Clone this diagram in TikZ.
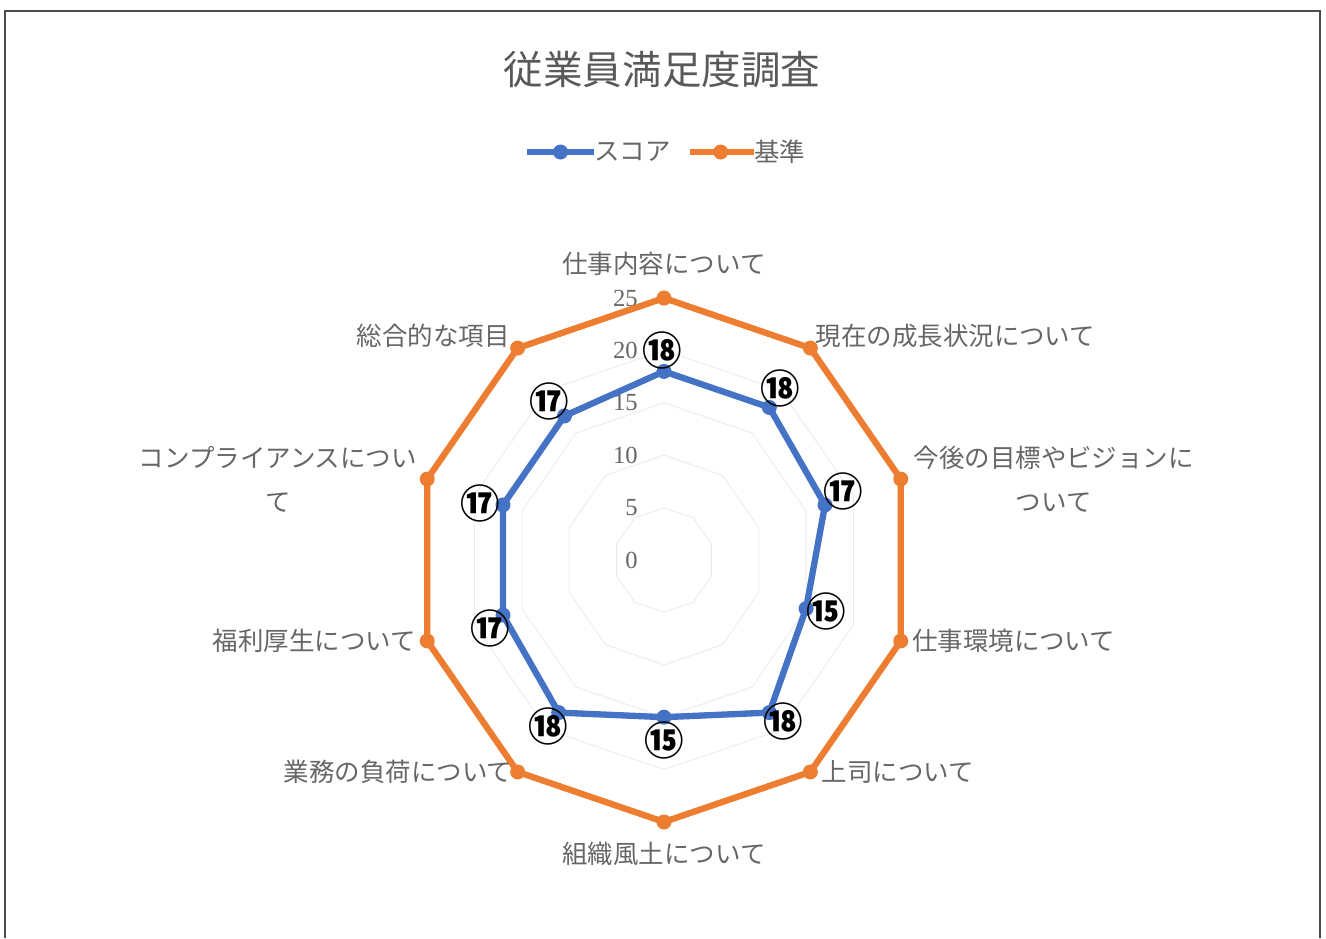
\documentclass[tikz,border=0pt]{standalone}
\usepackage{fontspec}
\setmainfont{Liberation Serif}
\newfontfamily\jpfont{Noto Sans CJK JP}
\usetikzlibrary{positioning}
\definecolor{scoreblue}{HTML}{4472C4}
\definecolor{baseorange}{HTML}{ED7D31}
\tikzset{
  axislabel/.style={text=black!60, inner sep=0pt, align=center, font=\jpfont\fontsize{14.5}{25}\selectfont},
  ticklabel/.style={text=black!60, inner sep=0pt, font=\fontsize{14}{16}\selectfont},
  numlabel/.style={text=black, inner sep=0pt, font=\jpfont\bfseries\fontsize{22.5}{24}\selectfont},
  dot/.style={circle, inner sep=0pt, minimum size=0.3cm},
  seriesline/.style={line width=3.6pt, line join=round},
  gridline/.style={draw=black!8, line width=0.5pt}
}

\begin{document}
\begin{tikzpicture}[x=0.02cm, y=-0.02cm]
  \useasboundingbox (0,0) rectangle (1326,938);
  \draw[black!70, line width=1.2pt] (5,938) -- (5,11) -- (1320,11) -- (1320,938);

  \node[text=black!65, inner sep=0pt, font=\jpfont\fontsize{22.5}{26}\selectfont] (title) at (662,70) {従業員満足度調査};

  % legend
  \node[axislabel, anchor=west] (leg1) at (594,152) {スコア};
  \node[axislabel, anchor=west] (leg2) at (754,152) {基準};
  \coordinate (leg1start) at (527,152);
  \coordinate (leg2start) at (690,152);
  \draw[seriesline, scoreblue] (leg1start) -- (leg1.west) node[dot, fill=scoreblue, midway] (leg1dot) {};
  \draw[seriesline, baseorange] (leg2start) -- (leg2.west) node[dot, fill=baseorange, pos=0.48] (leg2dot) {};

  \begin{scope}[shift={(664,560)}, x=0.1992cm, y=0.2096cm]
    % grid
    \foreach \r in {5,10,...,25}
      \draw[gridline] (90:\r) \foreach \k in {1,...,9}{ -- (90-36*\k:\r)} -- cycle;
    \foreach \v in {0,5,...,25}
      \node[ticklabel, anchor=east] (t\v) at ([xshift=-0.52cm]90:\v) {\v};

    \foreach \k in {0,...,9}
      \coordinate (o\k) at (90-36*\k:25);
    \foreach \v [count=\k from 0] in {18,18,17,15,18,15,18,17,17,17}
      \coordinate (s\k) at (90-36*\k:\v);

    \draw[seriesline, baseorange] (o0) \foreach \k in {1,...,9}{ -- (o\k)} -- cycle;
    \draw[seriesline, scoreblue] (s0) \foreach \k in {1,...,9}{ -- (s\k)} -- cycle;
    \foreach \k in {0,...,9}{
      \node[dot, fill=baseorange] (od\k) at (o\k) {};
      \node[dot, fill=scoreblue] (sd\k) at (s\k) {};
    }

    \foreach \k/\c/\dx/\dy in {0/⑱/-0.04cm/0.42cm, 1/⑱/0.22cm/0.38cm, 2/⑰/0.36cm/0.26cm,
        3/⑮/0.40cm/-0.06cm, 4/⑱/0.28cm/-0.18cm, 5/⑮/0cm/-0.46cm, 6/⑱/-0.20cm/-0.28cm,
        7/⑰/-0.26cm/-0.26cm, 8/⑰/-0.46cm/0.02cm, 9/⑰/-0.30cm/0.28cm}
      \node[numlabel] (n\k) at ([xshift=\dx, yshift=\dy]s\k) {\c};
  \end{scope}

  % axis names
  \node[axislabel, above=0.45cm of o0] (l0) {仕事内容について};
  \node[axislabel, above right=0cm and 0.1cm of o1] (l1) {現在の成長状況について};
  \node[axislabel, right=0.25cm of o2] (l2) {今後の目標やビジョンに\\ついて};
  \node[axislabel, right=0.22cm of o3] (l3) {仕事環境について};
  \node[axislabel, right=0.22cm of o4] (l4) {上司について};
  \node[axislabel, below=0.4cm of o5] (l5) {組織風土について};
  \node[axislabel, left=0.1cm of o6] (l6) {業務の負荷について};
  \node[axislabel, left=0.22cm of o7] (l7) {福利厚生について};
  \node[axislabel, left=0.2cm of o8] (l8) {コンプライアンスについ\\て};
  \node[axislabel, above left=0cm and 0.15cm of o9] (l9) {総合的な項目};
\end{tikzpicture}
\end{document}
